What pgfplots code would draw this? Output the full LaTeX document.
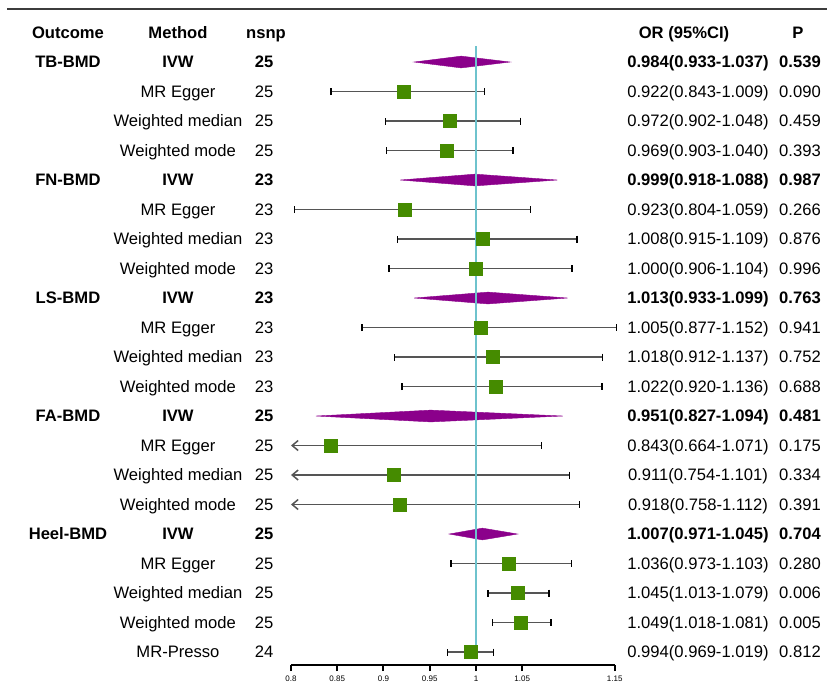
\documentclass[border=0pt]{standalone}
\usepackage{pgfplots}
\pgfplotsset{compat=1.18}
\usepackage{pgfplotstable}
\usepackage{fontspec}
\setmainfont{Liberation Sans}
\usetikzlibrary{arrows.meta}
\definecolor{sqgreen}{RGB}{69,139,0}
\definecolor{dmag}{RGB}{139,0,139}
\definecolor{refc}{RGB}{110,195,205}
\definecolor{whisk}{RGB}{85,85,85}
\definecolor{rulec}{RGB}{60,60,60}

\pgfplotstableread{
row est lo hi
2 0.922 0.843 1.009
3 0.972 0.902 1.048
4 0.969 0.903 1.040
6 0.923 0.804 1.059
7 1.008 0.915 1.109
8 1.000 0.906 1.104
10 1.005 0.877 1.152
11 1.018 0.912 1.137
12 1.022 0.920 1.136
18 1.036 0.973 1.103
19 1.045 1.013 1.079
20 1.049 1.018 1.081
21 0.994 0.969 1.019
}\full

\pgfplotstableread{
row est lo hi
14 0.843 0.664 1.071
15 0.911 0.754 1.101
16 0.918 0.758 1.112
}\trunc

\newcommand\R[7]{%
 \node[T] at (axis cs:0.5589,#1) {#7#2};
 \node[T] at (axis cs:0.6778,#1) {#7#3};
 \node[T] at (axis cs:0.771,#1) {#7#4};
 \node[T] at (axis cs:1.24,#1) {#7#5};
 \node[T] at (axis cs:1.3503,#1) {#7#6};
}

\begin{document}
\begin{tikzpicture}[T/.style={anchor=base, yshift=-2.9pt, inner sep=0pt, font=\fontsize{8.3}{10}\selectfont}]
\useasboundingbox (0,0) rectangle (413.5pt,343pt);
\begin{axis}[
 at={(145.5pt,10.5pt)}, anchor=south west,
 scale only axis, width=161.875pt, height=330.99pt,
 xmin=0.8, xmax=1.15, ymin=-1, ymax=21.44, y dir=reverse,
 axis x line*=bottom, axis y line=none,
 x axis line style={line width=1pt, black},
 xtick={0.8,0.85,0.9,0.95,1,1.05,1.15},
 xticklabels={0.8,0.85,0.9,0.95,1,1.05,1.15},
 xticklabel style={font=\fontsize{4}{5}\selectfont, inner sep=1pt, yshift=-1.5pt},
 tick align=outside, major tick length=3pt,
 tick style={line width=1pt, black},
 ytick=\empty,
 clip=false,
]
% top rule
\draw[line width=1pt, rulec] (axis cs:0.493,-0.797) -- (axis cs:1.3795,-0.797);

% diamonds (IVW)
\addplot[fill=dmag, draw=dmag, line width=0.2pt] coordinates {(0.933,1) (0.984,0.8) (1.037,1) (0.984,1.2)} -- cycle;
\addplot[fill=dmag, draw=dmag, line width=0.2pt] coordinates {(0.918,5) (0.999,4.8) (1.088,5) (0.999,5.2)} -- cycle;
\addplot[fill=dmag, draw=dmag, line width=0.2pt] coordinates {(0.933,9) (1.013,8.8) (1.099,9) (1.013,9.2)} -- cycle;
\addplot[fill=dmag, draw=dmag, line width=0.2pt] coordinates {(0.827,13) (0.951,12.8) (1.094,13) (0.951,13.2)} -- cycle;
\addplot[fill=dmag, draw=dmag, line width=0.2pt] coordinates {(0.971,17) (1.007,16.8) (1.045,17) (1.007,17.2)} -- cycle;

% truncated arrows
\addplot[whisk, line width=0.75pt, -{Straight Barb[length=3pt, width=5pt]}] coordinates {(0.843,14) (0.8,14)};
\addplot[whisk, line width=0.75pt, -{Straight Barb[length=3pt, width=5pt]}] coordinates {(0.911,15) (0.8,15)};
\addplot[whisk, line width=0.75pt, -{Straight Barb[length=3pt, width=5pt]}] coordinates {(0.918,16) (0.8,16)};

% squares with whiskers
\addplot[only marks, mark=square*, mark size=3.25pt, mark options={fill=sqgreen, draw=sqgreen},
 error bars/.cd, x dir=both, x explicit, error mark=|,
 error bar style={whisk, line width=0.75pt},
 error mark options={black, mark size=1.75pt, line width=0.75pt}]
 table[x=est, y=row, x error plus expr=\thisrow{hi}-\thisrow{est}, x error minus expr=\thisrow{est}-\thisrow{lo}] {\full};
\addplot[only marks, mark=square*, mark size=3.25pt, mark options={fill=sqgreen, draw=sqgreen},
 error bars/.cd, x dir=plus, x explicit, error mark=|,
 error bar style={whisk, line width=0.75pt},
 error mark options={black, mark size=1.75pt, line width=0.75pt}]
 table[x=est, y=row, x error plus expr=\thisrow{hi}-\thisrow{est}] {\trunc};

% reference line
\addplot[refc, line width=1pt] coordinates {(1,0.458) (1,21.1)};

% header
\node[T] at (axis cs:0.5589,0) {\bfseries Outcome};
\node[T] at (axis cs:0.6778,0) {\bfseries Method};
\node[T] at (axis cs:0.773,0) {\bfseries nsnp};
\node[T] at (axis cs:1.2249,0) {\bfseries OR (95\%CI)};
\node[T] at (axis cs:1.348,0) {\bfseries P};

\R{1}{TB-BMD}{IVW}{25}{0.984(0.933-1.037)}{0.539}{\bfseries}
\R{2}{}{MR Egger}{25}{0.922(0.843-1.009)}{0.090}{}
\R{3}{}{Weighted median}{25}{0.972(0.902-1.048)}{0.459}{}
\R{4}{}{Weighted mode}{25}{0.969(0.903-1.040)}{0.393}{}
\R{5}{FN-BMD}{IVW}{23}{0.999(0.918-1.088)}{0.987}{\bfseries}
\R{6}{}{MR Egger}{23}{0.923(0.804-1.059)}{0.266}{}
\R{7}{}{Weighted median}{23}{1.008(0.915-1.109)}{0.876}{}
\R{8}{}{Weighted mode}{23}{1.000(0.906-1.104)}{0.996}{}
\R{9}{LS-BMD}{IVW}{23}{1.013(0.933-1.099)}{0.763}{\bfseries}
\R{10}{}{MR Egger}{23}{1.005(0.877-1.152)}{0.941}{}
\R{11}{}{Weighted median}{23}{1.018(0.912-1.137)}{0.752}{}
\R{12}{}{Weighted mode}{23}{1.022(0.920-1.136)}{0.688}{}
\R{13}{FA-BMD}{IVW}{25}{0.951(0.827-1.094)}{0.481}{\bfseries}
\R{14}{}{MR Egger}{25}{0.843(0.664-1.071)}{0.175}{}
\R{15}{}{Weighted median}{25}{0.911(0.754-1.101)}{0.334}{}
\R{16}{}{Weighted mode}{25}{0.918(0.758-1.112)}{0.391}{}
\R{17}{Heel-BMD}{IVW}{25}{1.007(0.971-1.045)}{0.704}{\bfseries}
\R{18}{}{MR Egger}{25}{1.036(0.973-1.103)}{0.280}{}
\R{19}{}{Weighted median}{25}{1.045(1.013-1.079)}{0.006}{}
\R{20}{}{Weighted mode}{25}{1.049(1.018-1.081)}{0.005}{}
\R{21}{}{MR-Presso}{24}{0.994(0.969-1.019)}{0.812}{}
\end{axis}
\end{tikzpicture}
\end{document}
